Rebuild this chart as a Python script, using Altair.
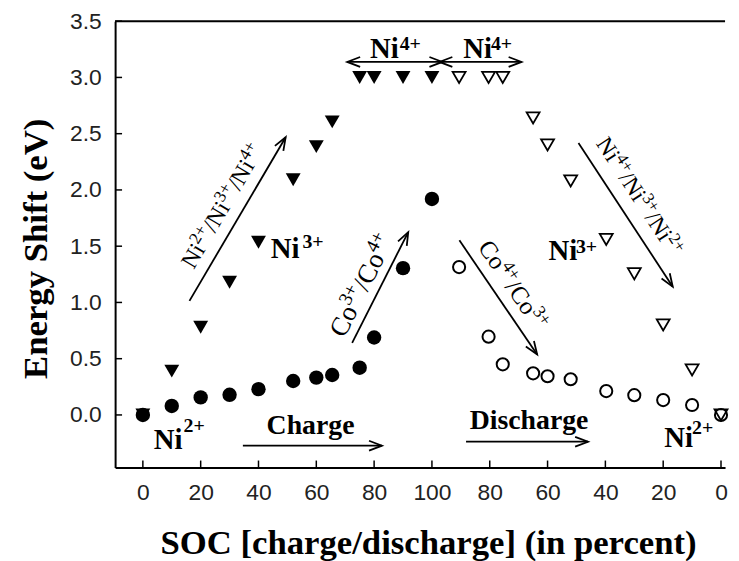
import math
import altair as alt
import pandas as pd

# ---------------- data ----------------
charge_soc = [0, 10, 20, 30, 40, 52, 60, 65.5, 75, 80, 90, 100]
co_charge = [0.0, 0.08, 0.156, 0.179, 0.229, 0.302, 0.332, 0.355, 0.42, 0.688, 1.305, 1.92]
ni_charge = [0.0, 0.39, 0.78, 1.18, 1.535, 2.09, 2.385, 2.605, 3.0, 3.0, 3.0, 3.0]

# discharge points sit on the second half of the axis (100 -> 0 shown as 100..200)
discharge_pos = [109.4, 119.6, 124.5, 135, 140, 148, 160.3, 170, 180, 190, 200]
co_discharge = [1.314, 0.696, 0.45, 0.37, 0.344, 0.317, 0.212, 0.176, 0.132, 0.088, 0.0]
ni_discharge = [3.0, 3.0, 3.0, 2.64, 2.40, 2.08, 1.56, 1.255, 0.80, 0.40, 0.0]

x_ticks = [0, 20, 40, 60, 80, 100, 120, 140, 160, 180, 200]
y_ticks = [0.0, 0.5, 1.0, 1.5, 2.0, 2.5, 3.0, 3.5]

x_title = "SOC [charge/discharge] (in percent)"
y_title = "Energy Shift (eV)"

# ---------------- layout ----------------
W, H = 615, 450
XDOM = (-9.6, 201.4)
YDOM = (-0.467, 3.5)
KX = W / (XDOM[1] - XDOM[0])
KY = H / (YDOM[1] - YDOM[0])


def d2p(x, y):
    return ((x - XDOM[0]) * KX, (YDOM[1] - y) * KY)


def p2d(px, py):
    return (XDOM[0] + px / KX, YDOM[1] - py / KY)


xs = alt.Scale(domain=list(XDOM), nice=False, zero=False)
ys = alt.Scale(domain=list(YDOM), nice=False, zero=False)

x_axis = alt.Axis(
    values=x_ticks,
    labelExpr="'' + (datum.value <= 100 ? datum.value : 200 - datum.value)",
    ticks=False, tickSize=0, grid=False,
    domainColor="black", domainWidth=2,
    labelFont="Liberation Sans", labelFontSize=23, labelColor="#222",
    labelPadding=14, labelFlush=False, labelOverlap=False,
    title=x_title, titleFont="Liberation Serif", titleFontSize=35,
    titleFontWeight="bold", titleColor="black",
    titleX=315.5, titleY=87, titleAlign="center", titleBaseline="alphabetic",
)
y_axis = alt.Axis(
    values=y_ticks, format=".1f",
    ticks=False, tickSize=0, grid=False,
    domainColor="black", domainWidth=2,
    labelFont="Liberation Sans", labelFontSize=23, labelColor="#222",
    labelPadding=14, labelFlush=False, labelOverlap=False,
    title=y_title, titleFont="Liberation Serif", titleFontSize=35,
    titleFontWeight="bold", titleColor="black",
    titleAngle=270, titleX=-69, titleY=229, titleAlign="center",
    titleBaseline="alphabetic",
)


def X(f):
    return alt.X(f, type="quantitative", scale=xs, axis=x_axis)


def Y(f):
    return alt.Y(f, type="quantitative", scale=ys, axis=y_axis)


# ---------------- point layers ----------------
df_cc = pd.DataFrame({"x": charge_soc, "y": co_charge})
df_nc = pd.DataFrame({"x": charge_soc, "y": ni_charge})
df_cd = pd.DataFrame({"x": discharge_pos, "y": co_discharge})
df_nd = pd.DataFrame({"x": discharge_pos, "y": ni_discharge})

pts_nc = alt.Chart(df_nc).mark_point(
    shape="triangle-down", filled=True, color="black", size=225, opacity=1
).encode(x=X("x"), y=Y("y"))

pts_cc = alt.Chart(df_cc).mark_point(
    shape="circle", filled=True, color="black", size=210, opacity=1
).encode(x=X("x"), y=Y("y"))

pts_cd = alt.Chart(df_cd).mark_point(
    shape="circle", filled=False, color="black", size=150, strokeWidth=2, opacity=1
).encode(x=X("x"), y=Y("y"))

pts_nd = alt.Chart(df_nd).mark_point(
    shape="triangle-down", filled=False, color="black", size=170, strokeWidth=1.8, opacity=1
).encode(x=X("x"), y=Y("y"))

# ---------------- frame: inward ticks and top border ----------------
xt = alt.Chart(pd.DataFrame({"x": x_ticks})).mark_rule(color="black", strokeWidth=1.5).encode(
    x=X("x"), y=alt.value(H), y2=alt.value(H - 7))
yt = alt.Chart(pd.DataFrame({"y": y_ticks})).mark_rule(color="black", strokeWidth=1.5).encode(
    y=Y("y"), x=alt.value(0), x2=alt.value(7))
top = alt.Chart(pd.DataFrame({"x": [XDOM[0]], "x1": [XDOM[1]], "y": [YDOM[1]]})).mark_rule(
    color="black", strokeWidth=2).encode(x=X("x"), x2="x1:Q", y=Y("y"))

# ---------------- arrows ----------------
arrows = [
    # (x1, y1, x2, y2, double-headed)
    (16.12, 1.014, 49.4, 2.468, False),    # Ni2+/Ni3+/Ni4+
    (72.4, 0.641, 91.8, 1.625, False),     # Co3+/Co4+
    (109.5, 1.552, 136.4, 0.538, False),   # Co4+/Co3+
    (150.7, 2.418, 183.3, 1.140, False),   # Ni4+/Ni3+/Ni2+
    (34.6, -0.273, 82.7, -0.273, False),   # Charge
    (111.8, -0.238, 154.0, -0.238, False), # Discharge
    (70.7, 3.138, 103.6, 3.138, True),     # Ni4+ (charge)
    (102.6, 3.138, 131.0, 3.138, True),    # Ni4+ (discharge)
]
shaft_df = pd.DataFrame([{"x": a[0], "y": a[1], "x2": a[2], "y2": a[3]} for a in arrows])
head_rows = []
for x1, y1, x2, y2, both in arrows:
    p1 = d2p(x1, y1)
    p2 = d2p(x2, y2)
    ang = math.degrees(math.atan2(p2[1] - p1[1], p2[0] - p1[0])) % 360
    head_rows.append({"x": x2, "y": y2, "angle": ang})
    if both:
        head_rows.append({"x": x1, "y": y1, "angle": (ang + 180) % 360})
head_df = pd.DataFrame(head_rows)

shafts = alt.Chart(shaft_df).mark_rule(color="black", strokeWidth=1.8).encode(
    x=X("x"), y=Y("y"), x2="x2:Q", y2="y2:Q")
heads = alt.Chart(head_df).mark_point(
    shape="M -1 -0.38 L 0 0 L -1 0.38", filled=False, color="black",
    strokeWidth=1.8, size=676, opacity=1
).encode(x=X("x"), y=Y("y"), angle=alt.Angle("angle:Q", scale=None))

# ---------------- horizontal labels ----------------
hlabels = pd.DataFrame([
    {"x": 3.8, "y": -0.300, "t": "Ni", "s": 29},
    {"x": 14.1, "y": -0.150, "t": "2+", "s": 20},
    {"x": 180.4, "y": -0.282, "t": "Ni", "s": 29},
    {"x": 190.0, "y": -0.168, "t": "2+", "s": 20},
    {"x": 44.25, "y": 1.393, "t": "Ni", "s": 29},
    {"x": 55.2, "y": 1.481, "t": "3+", "s": 20},
    {"x": 140.3, "y": 1.375, "t": "Ni", "s": 29},
    {"x": 149.8, "y": 1.440, "t": "3+", "s": 20},
    {"x": 78.56, "y": 3.174, "t": "Ni", "s": 29},
    {"x": 88.85, "y": 3.244, "t": "4+", "s": 20},
    {"x": 110.8, "y": 3.174, "t": "Ni", "s": 29},
    {"x": 120.4, "y": 3.244, "t": "4+", "s": 20},
])
htext = alt.Chart(hlabels).mark_text(
    align="left", baseline="alphabetic", font="Liberation Serif", fontWeight="bold", color="black"
).encode(x=X("x"), y=Y("y"), text="t:N", size=alt.Size("s:Q", scale=None))

clabels = pd.DataFrame([
    {"x": 58.0, "y": -0.1675, "t": "Charge"},
    {"x": 133.6, "y": -0.123, "t": "Discharge"},
])
ctext = alt.Chart(clabels).mark_text(
    align="center", baseline="alphabetic", font="Liberation Serif", fontWeight="bold",
    fontSize=28, color="black"
).encode(x=X("x"), y=Y("y"), text="t:N")

# ---------------- rotated labels along the diagonal arrows ----------------
WID = {"N": .722, "i": .278, "/": .278, "C": .667, "o": .5, "2": .5, "3": .5, "4": .5, "+": .564}
SUP = 0.72
RAISE = 0.38


def rot_label(arrow, along, perp, fs, parts):
    x1, y1, x2, y2, _ = arrow
    t = d2p(x1, y1)
    h = d2p(x2, y2)
    L = math.hypot(h[0] - t[0], h[1] - t[1])
    u = ((h[0] - t[0]) / L, (h[1] - t[1]) / L)
    up = (u[1], -u[0])
    ang = math.degrees(math.atan2(u[1], u[0])) % 360
    sx = t[0] + along * u[0] + perp * up[0]
    sy = t[1] + along * u[1] + perp * up[1]
    rows = []
    a = 0.0
    for txt, sup in parts:
        f = fs * (SUP if sup else 1.0)
        r = RAISE * fs if sup else 0.0
        px = sx + a * u[0] + r * up[0]
        py = sy + a * u[1] + r * up[1]
        dx, dy = p2d(px, py)
        rows.append({"x": dx, "y": dy, "t": txt, "s": f, "a": ang})
        a += sum(WID[c] for c in txt) * f
    return rows


ni_up = [("Ni", False), ("2+", True), ("/Ni", False), ("3+", True), ("/Ni", False), ("4+", True)]
ni_dn = [("Ni", False), ("4+", True), ("/Ni", False), ("3+", True), ("/Ni", False), ("2+", True)]
co_up = [("Co", False), ("3+", True), ("/Co", False), ("4+", True)]
co_dn = [("Co", False), ("4+", True), ("/Co", False), ("3+", True)]

rrows = []
rrows += rot_label(arrows[0], 29, 12, 24, ni_up)
rrows += rot_label(arrows[1], 0, 9, 27, co_up)
rrows += rot_label(arrows[2], 16, 11, 25, co_dn)
rrows += rot_label(arrows[3], 10, 14, 23.5, ni_dn)
rtext = alt.Chart(pd.DataFrame(rrows)).mark_text(
    align="left", baseline="alphabetic", font="Liberation Serif", color="black"
).encode(x=X("x"), y=Y("y"), text="t:N", size=alt.Size("s:Q", scale=None),
         angle=alt.Angle("a:Q", scale=None))

chart = alt.layer(
    pts_nc, pts_cc, pts_cd, pts_nd, xt, yt, top, shafts, heads, htext, ctext, rtext
).properties(
    width=W, height=H,
    autosize=alt.AutoSizeParams(type="none"),
    padding={"left": 108, "top": 11, "right": 6, "bottom": 92},
).configure_view(stroke=None)

chart.save("out.html", embed_options={"renderer": "svg", "actions": False})
